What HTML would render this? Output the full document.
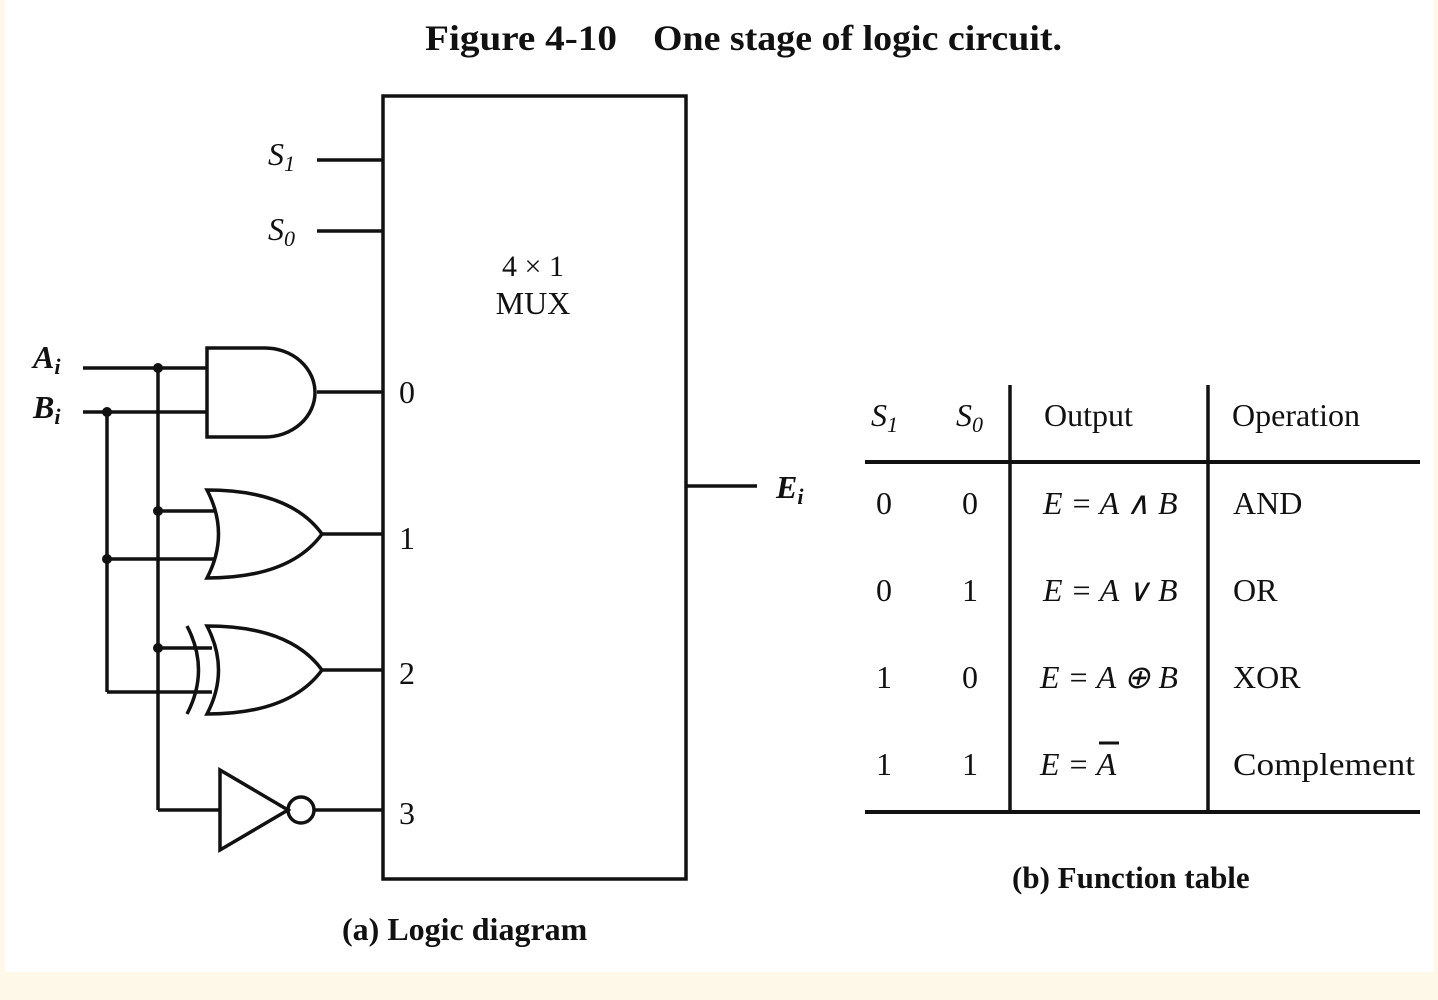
<!DOCTYPE html>
<html><head><meta charset="utf-8"><style>
html,body{margin:0;padding:0;background:#fdf8e6;}
svg{display:block}
text{font-family:"Liberation Serif",serif;fill:#111;}
</style></head><body>
<svg width="1438" height="1000" viewBox="0 0 1438 1000" xmlns="http://www.w3.org/2000/svg">
<rect x="0" y="0" width="1438" height="1000" fill="#fdf8e8"/>
<rect x="5" y="0" width="1429" height="972" fill="#ffffff"/>
<text x="425" y="50" font-size="36" font-weight="bold" textLength="192" lengthAdjust="spacingAndGlyphs">Figure 4-10</text>
<text x="653" y="50" font-size="36" font-weight="bold" textLength="409" lengthAdjust="spacingAndGlyphs">One stage of logic circuit.</text>

<g stroke="#111" stroke-width="3.5" fill="none">
<rect x="383" y="96" width="303" height="783"/>
<line x1="317" y1="160" x2="383" y2="160"/>
<line x1="317" y1="231" x2="383" y2="231"/>
<line x1="686" y1="486" x2="757" y2="486"/>
<line x1="83" y1="368" x2="207" y2="368"/>
<line x1="83" y1="412" x2="207" y2="412"/>
<line x1="158" y1="368" x2="158" y2="810"/>
<line x1="107" y1="412" x2="107" y2="692"/>
<line x1="158" y1="810" x2="220" y2="810"/>
<path d="M207 348 H265 A50 44.5 0 0 1 265 437 H207 Z"/>
<line x1="317" y1="392" x2="383" y2="392"/>
<line x1="158" y1="511" x2="214" y2="511"/>
<line x1="107" y1="559" x2="214" y2="559"/>
<path d="M207 490 Q230 534 207 578 Q290 578 322 534 Q290 490 207 490 Z"/>
<line x1="322" y1="534" x2="383" y2="534"/>
<line x1="158" y1="648" x2="212" y2="648"/>
<line x1="107" y1="692" x2="212" y2="692"/>
<path d="M207 626 Q230 670 207 714 Q290 714 322 670 Q290 626 207 626 Z"/>
<path d="M187 626 Q210 670 187 714"/>
<line x1="322" y1="670" x2="383" y2="670"/>
<path d="M220 770 L288 810 L220 850 Z"/>
<circle cx="301" cy="810" r="13"/>
<line x1="314" y1="810" x2="383" y2="810"/>
<line x1="1010" y1="385" x2="1010" y2="812"/>
<line x1="1208" y1="385" x2="1208" y2="812"/>
<line x1="865" y1="462" x2="1420" y2="462" stroke-width="4"/>
<line x1="865" y1="812" x2="1420" y2="812" stroke-width="4"/>
</g>
<g fill="#111">
<circle cx="158" cy="368" r="5"/><circle cx="107" cy="412" r="5"/>
<circle cx="158" cy="511" r="5"/><circle cx="107" cy="559" r="5"/>
<circle cx="158" cy="648" r="5"/>
</g>

<g font-size="32">
<text x="268" y="165" font-style="italic">S<tspan font-size="22" dy="6">1</tspan></text>
<text x="268" y="240" font-style="italic">S<tspan font-size="22" dy="6">0</tspan></text>
<text x="33" y="368" font-style="italic" font-weight="bold">A<tspan font-size="22" dy="6">i</tspan></text>
<text x="33" y="418" font-style="italic" font-weight="bold">B<tspan font-size="22" dy="6">i</tspan></text>
<text x="776" y="498" font-style="italic" font-weight="bold">E<tspan font-size="22" dy="6">i</tspan></text>
<text x="533" y="276" text-anchor="middle" font-size="30">4 × 1</text>
<text x="533" y="314" text-anchor="middle" font-size="32">MUX</text>
<text x="399" y="403">0</text>
<text x="399" y="549">1</text>
<text x="399" y="684">2</text>
<text x="399" y="824">3</text>

<text x="871" y="426" font-style="italic">S<tspan font-size="22" dy="6">1</tspan></text>
<text x="956" y="426" font-style="italic">S<tspan font-size="22" dy="6">0</tspan></text>
<text x="1044" y="426">Output</text>
<text x="1232" y="426">Operation</text>

<text x="876" y="514">0</text><text x="962" y="514">0</text>
<text x="1043" y="514" font-style="italic">E = A ∧ B</text><text x="1233" y="514">AND</text>
<text x="876" y="601">0</text><text x="962" y="601">1</text>
<text x="1043" y="601" font-style="italic">E = A ∨ B</text><text x="1233" y="601">OR</text>
<text x="876" y="688">1</text><text x="962" y="688">0</text>
<text x="1040" y="688" font-style="italic">E = A ⊕ B</text><text x="1233" y="688">XOR</text>
<text x="876" y="775">1</text><text x="962" y="775">1</text>
<text x="1040" y="775" font-style="italic">E = A</text><text x="1233" y="775" textLength="182" lengthAdjust="spacingAndGlyphs">Complement</text>
<text x="1012" y="888" font-weight="bold" font-size="31">(b) Function table</text>
<text x="342" y="940" font-weight="bold" font-size="32">(a) Logic diagram</text>
</g>
<line x1="1099" y1="743" x2="1119" y2="743" stroke="#111" stroke-width="3"/>
</svg>
</body></html>
